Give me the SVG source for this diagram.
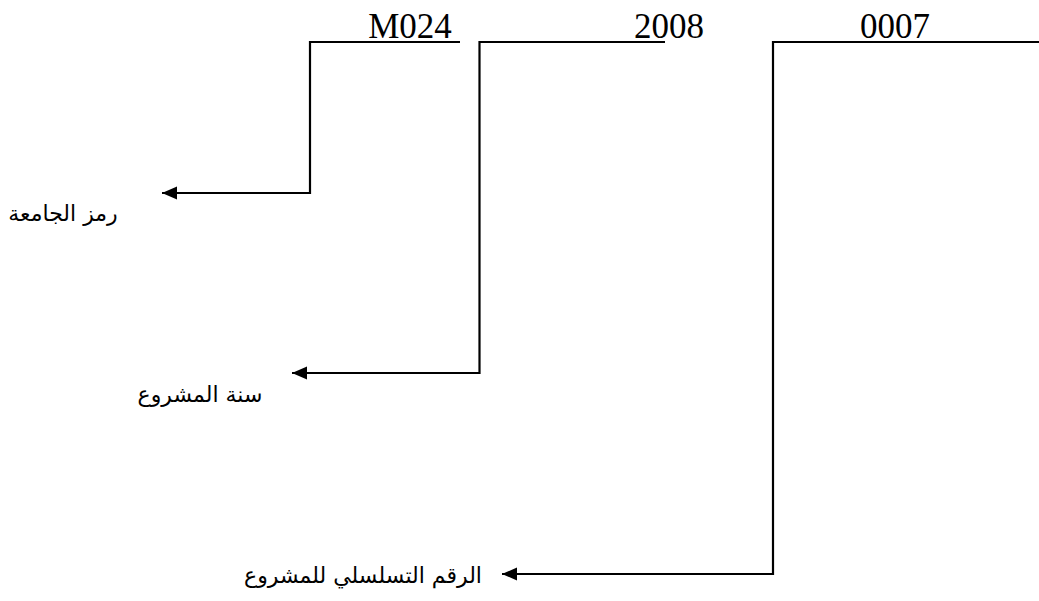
<svg xmlns="http://www.w3.org/2000/svg" width="1039" height="601" viewBox="0 0 1039 601">
<style>
.num{font-family:"Liberation Serif","Times New Roman",serif;font-size:35px;fill:#000}
.ar{font-family:"DejaVu Serif","DejaVu Sans","Noto Sans",serif;font-size:22px;fill:#000}
.c{fill:none;stroke:#000;stroke-width:2.2}
</style>
<defs>
<marker id="ah" markerUnits="userSpaceOnUse" markerWidth="16" markerHeight="14" refX="15" refY="6.5" orient="auto">
<path d="M0,0 L15,6.5 L0,13 Z" fill="#000"/>
</marker>
</defs>
<rect width="1039" height="601" fill="#fff"/>
<g id="connectors">
<path class="c" d="M460,42 H310 V193 H162" marker-end="url(#ah)"/>
<path class="c" d="M665,42 H479.5 V373 H292" marker-end="url(#ah)"/>
<path class="c" d="M1039,42 H773 V574 H502" marker-end="url(#ah)"/>
</g>
<g id="code-university"><text class="num" x="410" y="38" text-anchor="middle">M024</text></g>
<g id="code-year"><text class="num" x="669" y="38" text-anchor="middle">2008</text></g>
<g id="code-serial"><text class="num" x="895" y="38" text-anchor="middle">0007</text></g>
<g id="label-university"><text class="ar" x="63" y="221" text-anchor="middle" direction="rtl">رمز الجامعة</text></g>
<g id="label-year"><text class="ar" x="200" y="402" text-anchor="middle" direction="rtl">سنة المشروع</text></g>
<g id="label-serial"><text class="ar" x="363" y="583" text-anchor="middle" direction="rtl">الرقم التسلسلي للمشروع</text></g>
</svg>
